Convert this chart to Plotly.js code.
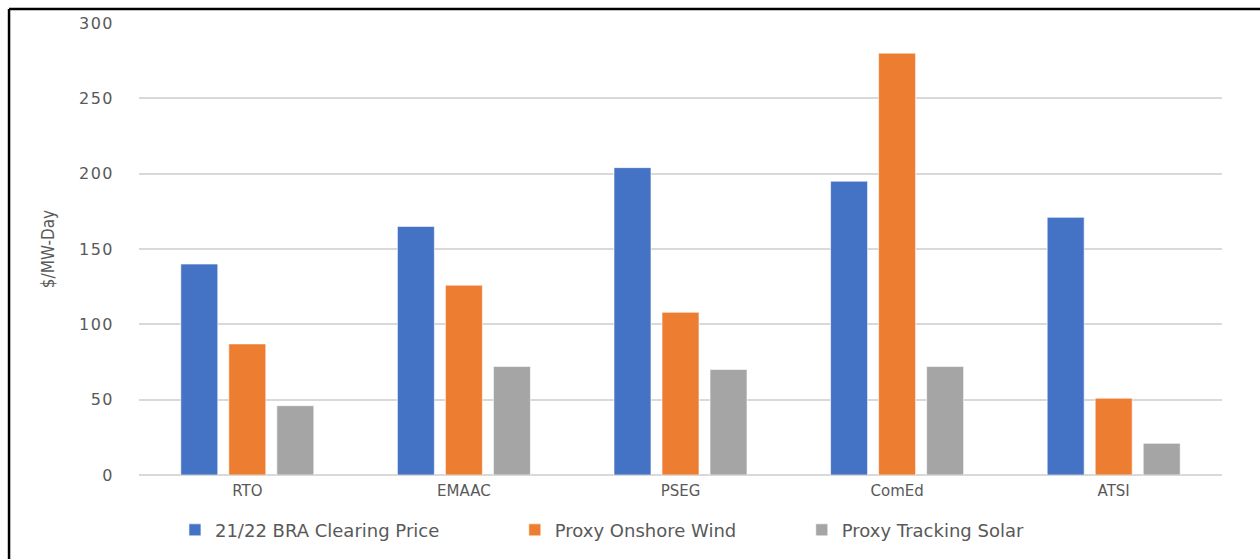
<!DOCTYPE html>
<html>
<head>
<meta charset="utf-8">
<script src="https://cdn.plot.ly/plotly-3.0.1.min.js"></script>
<style>
  html, body { margin: 0; padding: 0; background: #ffffff; }
  #chart { width: 1260px; height: 559px; }
  #chart .ytick text { letter-spacing: 1.5px; }
</style>
</head>
<body>
<div id="chart"></div>
<script>
const categories = ["RTO", "EMAAC", "PSEG", "ComEd", "ATSI"];
const braClearing = [140, 165, 204, 195, 171];
const onshoreWind = [87, 126, 108, 280, 51];
const trackingSolar = [46, 72, 70, 72, 21];
const seriesNames = ["21/22 BRA Clearing Price", "Proxy Onshore Wind", "Proxy Tracking Solar"];
const yTicks = [0, 50, 100, 150, 200, 250, 300];

const colors = ["#4472C4", "#ED7D31", "#A5A5A5"];
const seriesValues = [braClearing, onshoreWind, trackingSolar];
const legendIds = ["legend", "legend2", "legend3"];
const legendX = [0.0332, 0.347, 0.612];

const traces = seriesValues.map((vals, i) => ({
  type: "bar",
  name: seriesNames[i],
  x: categories,
  y: vals,
  legend: legendIds[i],
  marker: { color: colors[i], line: { color: "rgba(255,255,255,0.6)", width: 1 } },
  hoverinfo: "x+y+name"
}));

const textColor = "#595959";
const legendFont = { size: 18, color: textColor, family: "DejaVu Sans, sans-serif" };

const layout = {
  width: 1260,
  height: 559,
  margin: { l: 139, r: 38, t: 23, b: 84, autoexpand: false },
  paper_bgcolor: "#ffffff",
  plot_bgcolor: "#ffffff",
  barmode: "group",
  bargap: 0.335,
  bargroupgap: 0.23,
  font: { family: "DejaVu Sans, Verdana, sans-serif", color: textColor },
  xaxis: {
    type: "category",
    tickfont: { size: 15, color: textColor, family: "DejaVu Sans, sans-serif" },
    ticklabelstandoff: 5,
    showgrid: false,
    zeroline: false,
    showline: false,
    ticks: ""
  },
  yaxis: {
    range: [0, 300],
    tickvals: yTicks,
    ticktext: yTicks.map(String),
    tickfont: { size: 16, color: textColor, family: "DejaVu Sans, sans-serif" },
    ticklabelstandoff: 24,
    showgrid: true,
    gridcolor: "#D9D9D9",
    gridwidth: 1.5,
    zeroline: true,
    zerolinecolor: "#D9D9D9",
    zerolinewidth: 1.5,
    showline: false,
    ticks: "",
    title: {
      text: "$/MW-Day",
      font: { size: 17, color: textColor, family: "Liberation Sans Narrow, DejaVu Sans Condensed, sans-serif" },
      standoff: 24
    }
  },
  shapes: [
    { type: "line", xref: "paper", yref: "paper", x0: -0.12, x1: -0.12, y0: -0.3, y1: 1.031,
      line: { color: "#000000", width: 2.5 } },
    { type: "line", xref: "paper", yref: "paper", x0: -0.12, x1: 1.1, y0: 1.031, y1: 1.031,
      line: { color: "#000000", width: 2.5 } }
  ],
  showlegend: true
};

legendIds.forEach((id, i) => {
  layout[id] = {
    orientation: "h",
    x: legendX[i],
    xanchor: "left",
    y: -0.122,
    yanchor: "middle",
    font: legendFont,
    bgcolor: "rgba(0,0,0,0)",
    itemclick: false,
    itemdoubleclick: false
  };
});

Plotly.newPlot("chart", traces, layout, { displayModeBar: false });
</script>
</body>
</html>
